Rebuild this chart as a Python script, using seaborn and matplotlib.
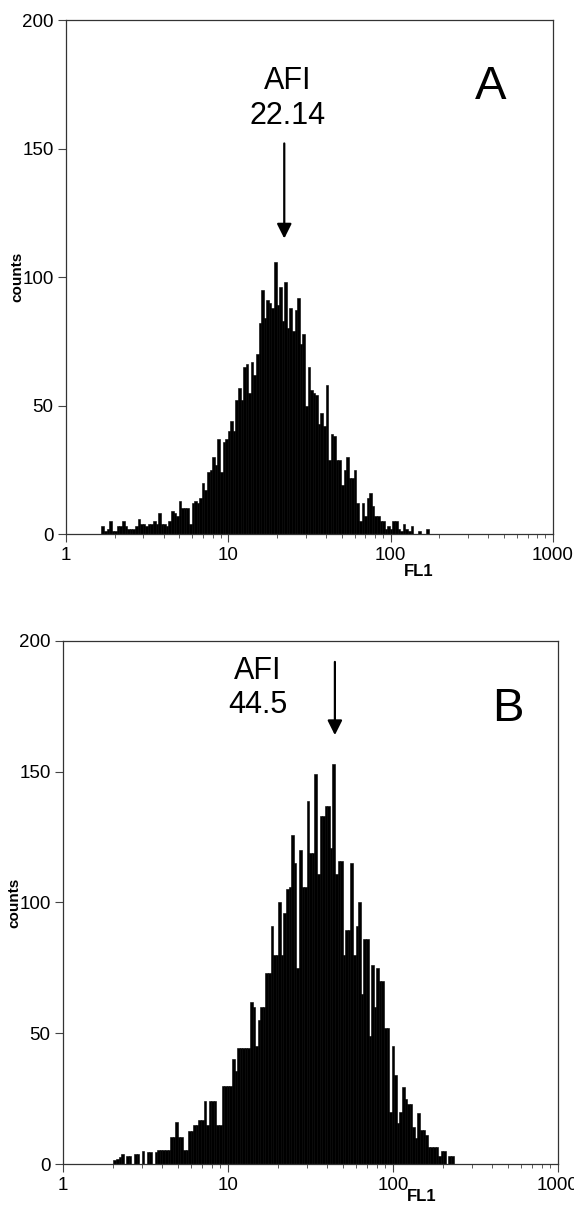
import numpy as np
import pandas as pd
import seaborn as sns
from matplotlib import pyplot as plt
from matplotlib.ticker import LogLocator, NullFormatter

# histogram counts per FL1 channel (log spaced channels)
a_counts = [3, 1, 2, 5, 1, 1, 3, 3, 5, 3, 2, 2, 2, 3, 6, 4, 4, 3, 4, 4,
            5, 4, 8, 4, 4, 3, 5, 9, 8, 7, 13, 10, 10, 10, 4, 12, 13, 12, 14, 20,
            17, 24, 25, 30, 27, 37, 24, 36, 37, 40, 44, 40, 52, 57, 52, 65, 66, 55, 67, 62,
            70, 82, 95, 84, 91, 90, 88, 106, 89, 96, 83, 98, 80, 88, 79, 87, 92, 74, 78, 50,
            65, 56, 55, 54, 43, 47, 42, 58, 29, 39, 38, 29, 29, 19, 25, 30, 22, 22, 25, 12,
            5, 12, 7, 14, 16, 11, 7, 7, 5, 5, 2, 3, 2, 5, 5, 2, 1, 4, 2, 1,
            3, 0, 0, 1, 0, 0, 2]
a_first_edge = 1.654
a_per_decade = 63

b_counts = [1.5, 2, 2.5, 4, 0, 3, 3, 0, 4, 4, 0, 5, 0, 4.5, 4.5, 0, 4.5, 5.5, 5.5, 5.5,
            5.5, 5.5, 10.5, 10.5, 16, 10.5, 10.5, 5.5, 5.5, 12.5, 12.5, 15, 15, 17, 17, 24, 15, 24, 24, 24,
            15, 15, 30, 30, 30, 30, 40, 35.5, 44.5, 44.5, 44.5, 44.5, 44.5, 62, 60, 45, 55, 60, 60, 73,
            73, 91, 80, 80, 100, 80, 96, 105, 106, 126, 115, 75, 120, 106, 106, 139, 119, 119, 149, 111,
            133, 133, 137, 137, 121, 153, 111, 116, 116, 80, 89.5, 89.5, 115, 80, 91, 100, 65, 86, 86, 49,
            76, 60, 75, 70, 70, 52, 52, 20, 45, 34, 15.5, 20, 29.5, 25, 23, 23, 14, 10, 19.5, 13,
            13, 11, 6.5, 6.5, 6.5, 6.5, 3, 5, 5, 0, 3, 3]
b_first_edge = 2.02
b_per_decade = 64

afi = [22.14, 44.5]
afi_labels = ["AFI\n22.14", "AFI\n44.5"]
panel_labels = ["A", "B"]

sns.set_style("ticks")
plt.rcParams["font.family"] = ["Liberation Sans", "DejaVu Sans"]
plt.rcParams["text.color"] = "black"
plt.rcParams["axes.labelcolor"] = "black"
plt.rcParams["xtick.color"] = "black"
plt.rcParams["ytick.color"] = "black"

fig = plt.figure(figsize=(5.74, 12.11), dpi=100)
ax_a = fig.add_axes([0.115, 0.559, 0.848, 0.4244])
ax_b = fig.add_axes([0.1098, 0.0388, 0.862, 0.4319])


def draw_panel(ax, counts, first_edge, per_decade, afi_val, afi_text, text_x, text_y,
               arrow_top, arrow_tip, label, label_x, label_y, xlab_y):
    edges = first_edge * 10 ** (np.arange(len(counts) + 1) / per_decade)
    df = pd.DataFrame({"fl1": np.sqrt(edges[:-1] * edges[1:]), "count": counts})
    sns.histplot(data=df, x="fl1", weights="count", bins=list(edges), ax=ax, color="black",
                 edgecolor="black", linewidth=0.4, alpha=1)
    ax.set_xscale("log")
    ax.set_xlim(1, 1000)
    ax.set_ylim(0, 200)
    ax.set_xticks([1, 10, 100, 1000])
    ax.set_xticklabels(["1", "10", "100", "1000"])
    ax.xaxis.set_minor_locator(LogLocator(base=10, subs=np.arange(2, 10)))
    ax.xaxis.set_minor_formatter(NullFormatter())
    ax.set_yticks([0, 50, 100, 150, 200])
    ax.tick_params(axis="both", which="major", labelsize=13.5, length=6, width=0.8,
                   direction="out", color="#444444", pad=3)
    ax.tick_params(axis="x", which="minor", length=3, width=0.6, color="#444444")
    for sp in ax.spines.values():
        sp.set_visible(True)
        sp.set_linewidth(0.9)
        sp.set_color("#333333")
    ax.set_ylabel("counts", fontsize=11, fontweight="bold")
    ax.yaxis.set_label_coords(-0.085, 0.5)
    ax.set_xlabel("FL1", fontsize=12, fontweight="bold")
    ax.xaxis.set_label_coords(0.725, xlab_y)
    ax.annotate("", xy=(afi_val, arrow_tip), xytext=(afi_val, arrow_top),
                arrowprops=dict(arrowstyle="-|>", color="black", lw=1.6,
                                mutation_scale=22, shrinkA=0, shrinkB=0))
    ax.text(text_x, text_y, afi_text, ha="center", va="center", fontsize=22)
    ax.text(label_x, label_y, label, ha="center", va="center", fontsize=34)


draw_panel(ax_a, a_counts, a_first_edge, a_per_decade, afi[0], afi_labels[0],
           23.3, 169.5, 152, 115, panel_labels[0], 415, 174, -0.058)
draw_panel(ax_b, b_counts, b_first_edge, b_per_decade, afi[1], afi_labels[1],
           15.2, 182, 192, 164, panel_labels[1], 500, 174, -0.048)

fig.savefig("out.png", dpi=100)
